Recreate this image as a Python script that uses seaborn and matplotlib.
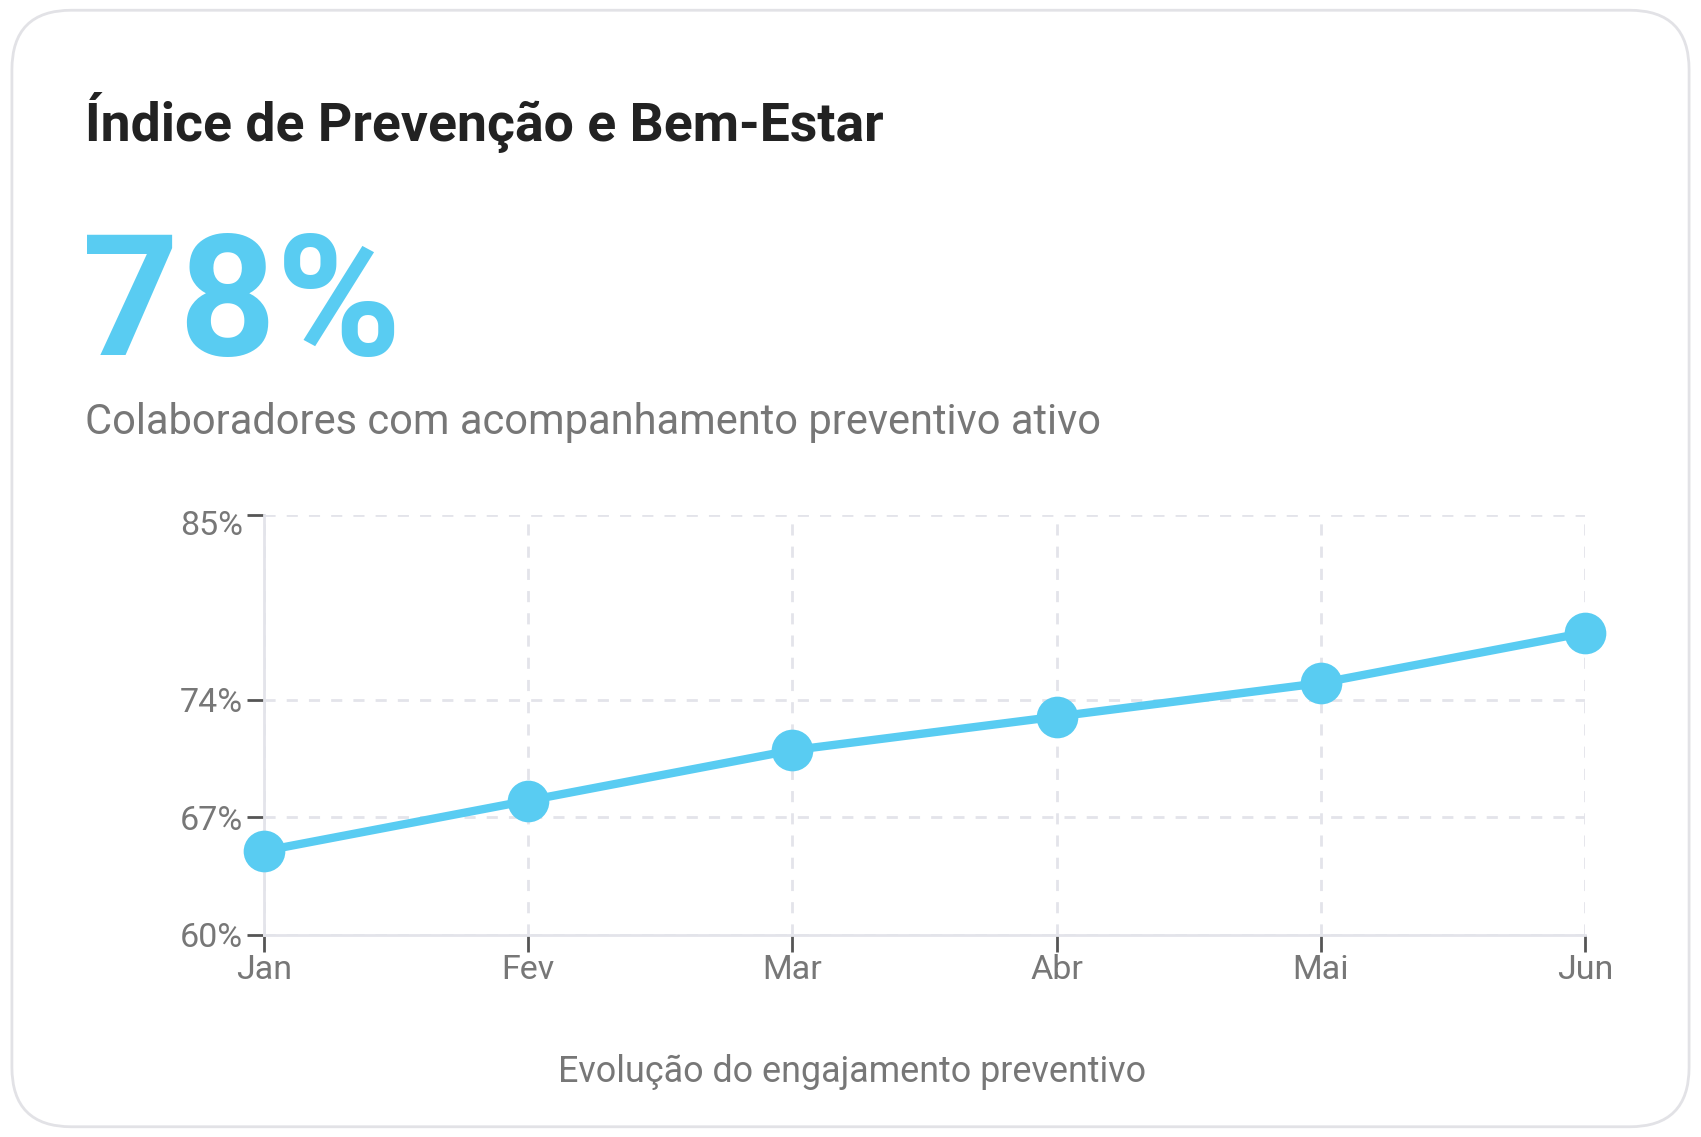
import numpy as np
import pandas as pd
import seaborn as sns
import matplotlib

matplotlib.use('Agg')
import matplotlib.pyplot as plt
from matplotlib.patches import FancyBboxPatch
from matplotlib.transforms import ScaledTranslation

months = ['Jan', 'Fev', 'Mar', 'Abr', 'Mai', 'Jun']
engajamento = [65, 68, 71, 73, 75, 78]
y_ticks = [60, 67, 74, 85]
titulo = 'Índice de Prevenção e Bem-Estar'
kpi = '78%'
subtitulo = 'Colaboradores com acompanhamento preventivo ativo'
legenda = 'Evolução do engajamento preventivo'

blue = '#59CCF2'
gray = '#777777'
grid_c = '#E3E4EA'

sns.set_theme(style='white')
plt.rcParams['font.family'] = ['Roboto', 'DejaVu Sans']

df = pd.DataFrame({'mes': np.arange(len(months)), 'valor': engajamento})

fig = plt.figure(figsize=(17.01, 11.37), dpi=100)
fig.patch.set_facecolor('white')

card = FancyBboxPatch((0.007, 0.009), 0.986, 0.982,
                      boxstyle='round,pad=0,rounding_size=0.035',
                      transform=fig.transFigure, facecolor='white',
                      edgecolor='#E2E2E6', linewidth=2, zorder=-1,
                      mutation_aspect=1701 / 1137)
fig.patches.append(card)

fig.text(0.050, 0.876, titulo, fontsize=38.5, fontweight='semibold',
         color='#222222', va='baseline')
fig.text(0.048, 0.688, kpi, fontsize=122, fontweight='bold',
         color=blue, va='baseline')
fig.text(0.050, 0.618, subtitulo, fontsize=30, color=gray, va='baseline')
fig.text(0.501, 0.048, legenda, fontsize=25.8, color=gray,
         ha='center', va='baseline')

ax = fig.add_axes([0.155, 0.1777, 0.777, 0.3693])
ax.set_facecolor('none')
sns.lineplot(data=df, x='mes', y='valor', ax=ax, color=blue,
             linewidth=6, marker='o', markersize=30,
             markeredgewidth=0, zorder=5, clip_on=False)

ax.set_xlim(0, len(months) - 1)
ax.set_ylim(60, 85)
ax.set_xticks(range(len(months)))
ax.set_xticklabels(months)
ax.set_yticks(y_ticks)
ax.set_yticklabels([f'{v}%' for v in y_ticks])
ax.set_xlabel('')
ax.set_ylabel('')

ax.grid(True, color=grid_c, linestyle=(0, (4, 4)), linewidth=2)
for side in ['top', 'right']:
    ax.spines[side].set_visible(False)
for side in ['left', 'bottom']:
    ax.spines[side].set_color(grid_c)
    ax.spines[side].set_linewidth(2)

ax.tick_params(axis='both', length=12, width=2, color='#555555',
               labelcolor=gray, labelsize=24.5, pad=3,
               bottom=True, left=True)
ax.tick_params(axis='x', pad=2)

# top label sits a little below its tick
top_lbl = ax.get_yticklabels()[-1]
top_lbl.set_transform(top_lbl.get_transform() +
                      ScaledTranslation(0, -7 / 100, fig.dpi_scale_trans))

fig.savefig('out.png', dpi=100, facecolor='white')
